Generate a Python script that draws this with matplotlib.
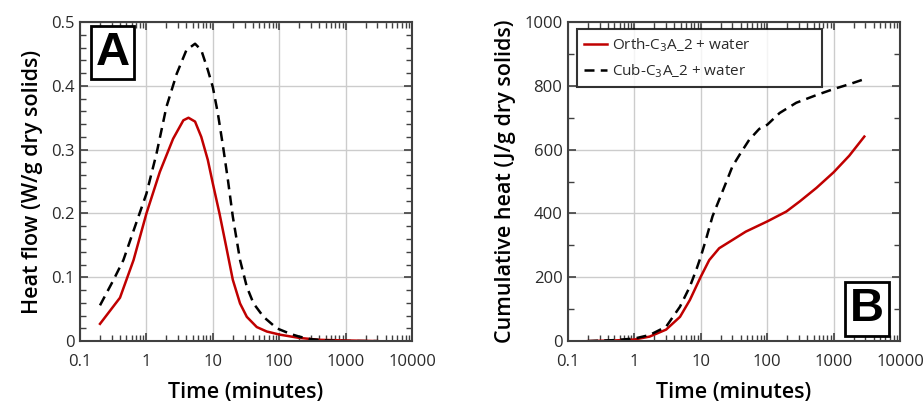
import matplotlib
matplotlib.use("Agg")
import matplotlib.pyplot as plt
from matplotlib.ticker import FixedLocator, LogLocator, MultipleLocator, FuncFormatter, NullFormatter

plt.rcParams['font.family'] = ['Open Sans', 'DejaVu Sans']

# heat flow (W/g dry solids)
t_orth_flow = [0.2, 0.4, 0.64, 1.0, 1.59, 2.52, 3.6, 4.3, 5.4, 6.7, 8.4, 10, 12.6, 15.9,
               20, 25.7, 32.5, 45.9, 65, 103, 200, 400, 1000, 3000]
q_orth_flow = [0.027, 0.068, 0.127, 0.200, 0.265, 0.317, 0.346, 0.350, 0.344, 0.320, 0.284,
               0.247, 0.200, 0.148, 0.096, 0.059, 0.038, 0.022, 0.015, 0.010, 0.005, 0.002,
               0.001, 0.0]
t_cub_flow = [0.2, 0.32, 0.45, 0.67, 1.0, 1.42, 2.0, 2.86, 4.0, 5.4, 6.7, 8.4, 10, 11.9,
              14.3, 16.9, 20, 25.7, 32.5, 41, 58, 92, 150, 200, 300, 500, 1000, 3000]
q_cub_flow = [0.056, 0.096, 0.127, 0.179, 0.231, 0.294, 0.367, 0.419, 0.456, 0.466, 0.456,
              0.425, 0.398, 0.357, 0.304, 0.252, 0.195, 0.127, 0.085, 0.059, 0.038, 0.020,
              0.011, 0.007, 0.003, 0.001, 0.0, 0.0]

# cumulative heat (J/g dry solids)
t_orth_cum = [0.2, 0.5, 1.0, 1.69, 3.0, 4.86, 6.85, 10, 13.4, 18.9, 30, 47.5, 100, 194, 310,
              550, 1000, 1720, 2900]
q_orth_cum = [0, 2, 5, 14, 36, 76, 129, 202, 254, 291, 317, 343, 375, 406, 438, 480, 529,
              581, 641]
t_cub_cum = [0.2, 0.5, 1.0, 1.69, 3.0, 4.86, 6.85, 8.7, 10, 11.9, 15.0, 18.9, 23.8, 30, 40,
             53.6, 75.8, 100, 154, 274, 550, 1000, 1720, 2900]
q_cub_cum = [0, 3, 8, 19, 45, 108, 171, 228, 265, 317, 391, 443, 495, 548, 590, 631, 665,
             678, 715, 747, 771, 790, 805, 821]

x_ticks = [0.1, 1, 10, 100, 1000, 10000]
label_orth = 'Orth-C$_3$A_2 + water'
label_cub = 'Cub-C$_3$A_2 + water'

red = '#c00000'
spine = '#404040'

fig = plt.figure(figsize=(9.23, 4.08), dpi=100)
ax1 = fig.add_axes([0.0867, 0.164, 0.3597, 0.782])
ax2 = fig.add_axes([0.6154, 0.164, 0.3597, 0.782])


def style(ax, ymax, ymajor, yminor):
    ax.set_xscale('log')
    ax.set_xlim(0.1, 10000)
    ax.set_ylim(0, ymax)
    ax.xaxis.set_major_locator(FixedLocator(x_ticks))
    ax.xaxis.set_minor_locator(LogLocator(base=10, subs=range(2, 10), numticks=20))
    ax.xaxis.set_minor_formatter(NullFormatter())
    ax.xaxis.set_major_formatter(FuncFormatter(lambda v, p: '%g' % v))
    ax.yaxis.set_major_locator(MultipleLocator(ymajor))
    ax.yaxis.set_minor_locator(MultipleLocator(yminor))
    ax.yaxis.set_major_formatter(FuncFormatter(lambda v, p: '%g' % round(v, 3)))
    ax.tick_params(which='both', direction='in', top=True, right=True, colors=spine,
                   labelcolor='#2a2a2a', labelsize=12)
    ax.tick_params(which='major', length=6, width=1.2)
    ax.tick_params(which='minor', length=4, width=1.0)
    ax.tick_params(axis='x', which='major', pad=9)
    ax.tick_params(axis='y', which='major', pad=4)
    ax.grid(True, which='major', color='#cccccc', linewidth=1.0)
    ax.set_axisbelow(True)
    for s in ax.spines.values():
        s.set_color(spine)
        s.set_linewidth(1.5)
    ax.set_xlabel('Time (minutes)', fontsize=15.5, fontweight='semibold', labelpad=9)


def panel_letter(ax, x, y, letter):
    ax.text(x, y, letter, transform=ax.transAxes, fontsize=34, fontweight='bold',
            family='Liberation Sans', ha='center', va='center',
            bbox=dict(boxstyle='square,pad=0.1', fc='white', ec='black', lw=2))


style(ax1, 0.5, 0.1, 0.02)
ax1.plot(t_orth_flow, q_orth_flow, color=red, lw=1.8, label=label_orth)
ax1.plot(t_cub_flow, q_cub_flow, color='black', lw=1.8, ls=(0, (4, 2.5)), label=label_cub)
ax1.set_ylabel('Heat flow (W/g dry solids)', fontsize=15.5, fontweight='semibold', labelpad=6)
panel_letter(ax1, 0.098, 0.904, 'A')

style(ax2, 1000, 200, 100)
ax2.plot(t_orth_cum, q_orth_cum, color=red, lw=1.8, label=label_orth)
ax2.plot(t_cub_cum, q_cub_cum, color='black', lw=1.8, ls=(0, (4, 2.5)), label=label_cub)
ax2.set_ylabel('Cumulative heat (J/g dry solids)', fontsize=15.5, fontweight='semibold',
               labelpad=6)
panel_letter(ax2, 0.9, 0.1, 'B')
leg = ax2.legend(loc='upper left', bbox_to_anchor=(0.027, 0.797, 0.738, 0.181),
                 mode='expand', fontsize=11, frameon=True, fancybox=False,
                 edgecolor='black', handlelength=1.5, borderpad=0.45, labelspacing=0.6,
                 handletextpad=0.35, borderaxespad=0)
leg.get_frame().set_linewidth(1.5)
for t in leg.get_texts():
    t.set_color('#2a2a2a')

fig.savefig('out.png', dpi=100)
